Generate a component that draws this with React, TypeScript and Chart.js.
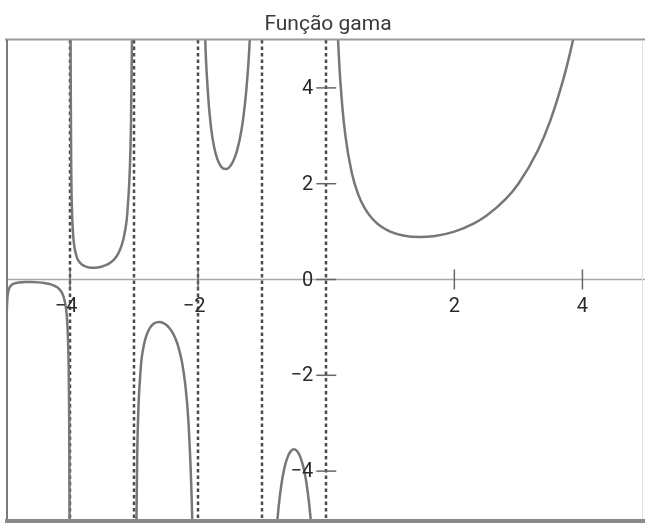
import React, { useEffect, useRef } from "react";
import { Chart, registerables } from "chart.js";

Chart.register(...registerables);

const titleText = "Função gama";
const xMin = -5;
const xMax = 4.93;
const yMin = -5;
const yMax = 5;
const asymptotes = [-4, -3, -2, -1, 0];
const xTicks = [-4, -2, 2, 4];
const yTicks = [-4, -2, 0, 2, 4];

// Branch on (-5, -4)
const b0X = [-4.999, -4.997, -4.995, -4.99, -4.98, -4.97, -4.95, -4.9, -4.8, -4.7, -4.6, -4.5, -4.4, -4.3, -4.2, -4.15, -4.1, -4.05, -4.03, -4.02, -4.01, -4.005, -4.002];
const b0Y = [-8.33, -2.78, -1.667, -0.848, -0.431, -0.293, -0.182, -0.1, -0.0624, -0.0535, -0.0537, -0.06, -0.0741, -0.102, -0.164, -0.2295, -0.364, -0.776, -1.329, -2.022, -4.105, -8.33, -20.8];
// Branch on (-4, -3)
const b1X = [-3.998, -3.995, -3.99, -3.98, -3.97, -3.95, -3.9, -3.85, -3.8, -3.75, -3.7, -3.65, -3.6, -3.55, -3.5, -3.45, -3.4, -3.35, -3.3, -3.25, -3.2, -3.15, -3.1, -3.05, -3.03, -3.02, -3.01];
const b1Y = [20.8, 8.33, 4.23, 2.148, 1.455, 0.902, 0.492, 0.3605, 0.2996, 0.2679, 0.2516, 0.2455, 0.2469, 0.255, 0.2701, 0.293, 0.3259, 0.3723, 0.4385, 0.5362, 0.6891, 0.9523, 1.4923, 3.142, 5.356, 8.13, 16.5];
// Branch on (-3, -2)
const b2X = [-2.99, -2.98, -2.97, -2.95, -2.9, -2.85, -2.8, -2.75, -2.7, -2.65, -2.6, -2.55, -2.5, -2.45, -2.4, -2.35, -2.3, -2.25, -2.2, -2.15, -2.1, -2.08, -2.05, -2.03];
const b2Y = [-16.88, -8.55, -5.778, -3.563, -1.918, -1.388, -1.139, -1.0045, -0.931, -0.896, -0.889, -0.905, -0.945, -1.011, -1.108, -1.247, -1.447, -1.743, -2.205, -3.0, -4.626, -5.859, -9.584, -16.23];
// Branch on (-2, -1)
const b3X = [-1.98, -1.97, -1.95, -1.9, -1.85, -1.8, -1.75, -1.7, -1.65, -1.6, -1.55, -1.5, -1.45, -1.4, -1.35, -1.3, -1.25, -1.2, -1.15, -1.1, -1.05];
const b3Y = [25.48, 17.16, 10.51, 5.564, 3.956, 3.188, 2.762, 2.514, 2.374, 2.311, 2.309, 2.363, 2.477, 2.659, 2.931, 3.328, 3.921, 4.851, 6.449, 9.715, 19.65];
// Branch on (-1, 0)
const b4X = [-0.98, -0.95, -0.9, -0.85, -0.8, -0.75, -0.7, -0.65, -0.6, -0.55, -0.5, -0.45, -0.4, -0.35, -0.3, -0.25, -0.2, -0.15, -0.1, -0.05];
const b4Y = [-50.45, -20.5, -10.57, -7.318, -5.739, -4.834, -4.274, -3.917, -3.697, -3.578, -3.545, -3.591, -3.723, -3.957, -4.327, -4.902, -5.821, -7.417, -10.69, -20.63];
// Branch on (0, 5)
const b5X = [0.02, 0.05, 0.1, 0.15, 0.2, 0.25, 0.3, 0.4, 0.5, 0.6, 0.7, 0.8, 0.9, 1, 1.2, 1.46, 1.7, 2, 2.3, 2.5, 2.8, 3, 3.3, 3.5, 3.7, 3.8, 3.9, 4.2];
const b5Y = [49.44, 19.47, 9.514, 6.22, 4.591, 3.626, 2.992, 2.218, 1.772, 1.489, 1.298, 1.164, 1.069, 1, 0.918, 0.886, 0.909, 1, 1.167, 1.329, 1.676, 2, 2.683, 3.323, 4.171, 4.694, 5.299, 7.757];

const branches = [
  [b0X, b0Y],
  [b1X, b1Y],
  [b2X, b2Y],
  [b3X, b3Y],
  [b4X, b4Y],
  [b5X, b5Y],
];

const fmt = (v: number) => (v < 0 ? "\u2212" + Math.abs(v) : String(v));

const decorPlugin = {
  id: "decor",
  beforeDatasetsDraw(chart: any) {
    const ctx = chart.ctx;
    const xs = chart.scales.x;
    const ys = chart.scales.y;
    const x0 = xs.getPixelForValue(0);
    const y0 = ys.getPixelForValue(0);
    const ca = chart.chartArea;
    ctx.save();
    // x axis
    ctx.strokeStyle = "#a8a8a8";
    ctx.lineWidth = 1.5;
    ctx.beginPath();
    ctx.moveTo(ca.left, y0);
    ctx.lineTo(chart.width, y0);
    ctx.stroke();
    // asymptotes
    ctx.strokeStyle = "#4a4a4a";
    ctx.lineWidth = 2.5;
    ctx.setLineDash([3.5, 3]);
    for (const a of asymptotes) {
      const px = Math.round(xs.getPixelForValue(a));
      ctx.beginPath();
      ctx.moveTo(px, ca.top);
      ctx.lineTo(px, ca.bottom);
      ctx.stroke();
    }
    ctx.setLineDash([]);
    // ticks
    ctx.strokeStyle = "#666";
    ctx.lineWidth = 1.5;
    for (const t of xTicks) {
      const px = xs.getPixelForValue(t);
      ctx.beginPath();
      ctx.moveTo(px, y0 - 10);
      ctx.lineTo(px, y0 + 10);
      ctx.stroke();
    }
    for (const t of yTicks) {
      const py = ys.getPixelForValue(t);
      ctx.beginPath();
      ctx.moveTo(x0 - 10, py);
      ctx.lineTo(x0 + 10, py);
      ctx.stroke();
    }
    ctx.restore();
  },
  afterDatasetsDraw(chart: any) {
    const ctx = chart.ctx;
    const xs = chart.scales.x;
    const ys = chart.scales.y;
    const x0 = xs.getPixelForValue(0);
    const y0 = ys.getPixelForValue(0);
    const ca = chart.chartArea;
    ctx.save();
    // frame
    ctx.strokeStyle = "#9a9a9a";
    ctx.lineWidth = 2;
    ctx.beginPath();
    ctx.moveTo(5, ca.top - 0.5);
    ctx.lineTo(chart.width, ca.top - 0.5);
    ctx.stroke();
    ctx.strokeStyle = "#7a7a7a";
    ctx.beginPath();
    ctx.moveTo(ca.left + 1, ca.top);
    ctx.lineTo(ca.left + 1, ca.bottom);
    ctx.stroke();
    ctx.strokeStyle = "#8a8a8a";
    ctx.lineWidth = 4;
    ctx.beginPath();
    ctx.moveTo(5, ca.bottom + 2);
    ctx.lineTo(chart.width, ca.bottom + 2);
    ctx.stroke();
    ctx.strokeStyle = "#e2e2e2";
    ctx.lineWidth = 1;
    ctx.beginPath();
    ctx.moveTo(ca.right + 0.5, ca.top);
    ctx.lineTo(ca.right + 0.5, ca.bottom);
    ctx.stroke();
    // labels
    ctx.fillStyle = "#2a2a2a";
    ctx.font = '20px Roboto, "Open Sans", sans-serif';
    ctx.textBaseline = "middle";
    ctx.textAlign = "center";
    for (const t of xTicks) {
      const px = xs.getPixelForValue(t) + (t < 0 ? -4 : 0);
      ctx.fillText(fmt(t), px, y0 + 27);
    }
    ctx.textAlign = "right";
    for (const t of yTicks) {
      const py = ys.getPixelForValue(t);
      ctx.fillText(fmt(t), x0 - 13, py + 1);
    }
    // title
    ctx.fillStyle = "#3a3a3a";
    ctx.textAlign = "center";
    ctx.textBaseline = "alphabetic";
    ctx.font = '21px Roboto, "Open Sans", sans-serif';
    ctx.fillText(titleText, 328, 30);
    ctx.restore();
  },
};

export default function App() {
  const ref = useRef<HTMLCanvasElement | null>(null);
  useEffect(() => {
    if (!ref.current) return;
    const chart = new Chart(ref.current, {
      type: "line",
      data: {
        datasets: branches.map(([bx, by]) => ({
          data: bx.map((x, i) => ({ x, y: by[i] })),
          borderColor: "#777",
          borderWidth: 2.5,
          pointRadius: 0,
          fill: false,
          cubicInterpolationMode: "monotone" as const,
        })),
      },
      options: {
        responsive: false,
        animation: false,
        devicePixelRatio: 1,
        layout: { padding: { left: 6, right: 3, top: 40, bottom: 4 } },
        plugins: { legend: { display: false }, tooltip: { enabled: false }, title: { display: false } },
        scales: {
          x: { type: "linear", min: xMin, max: xMax, display: false },
          y: { type: "linear", min: yMin, max: yMax, display: false },
        },
      },
      plugins: [decorPlugin],
    });
    return () => chart.destroy();
  }, []);
  return (
    <div style={{ position: "absolute", left: 0, top: 0, width: 645, height: 523, background: "#fff" }}>
      <canvas ref={ref} width={645} height={523} style={{ display: "block" }} />
    </div>
  );
}
